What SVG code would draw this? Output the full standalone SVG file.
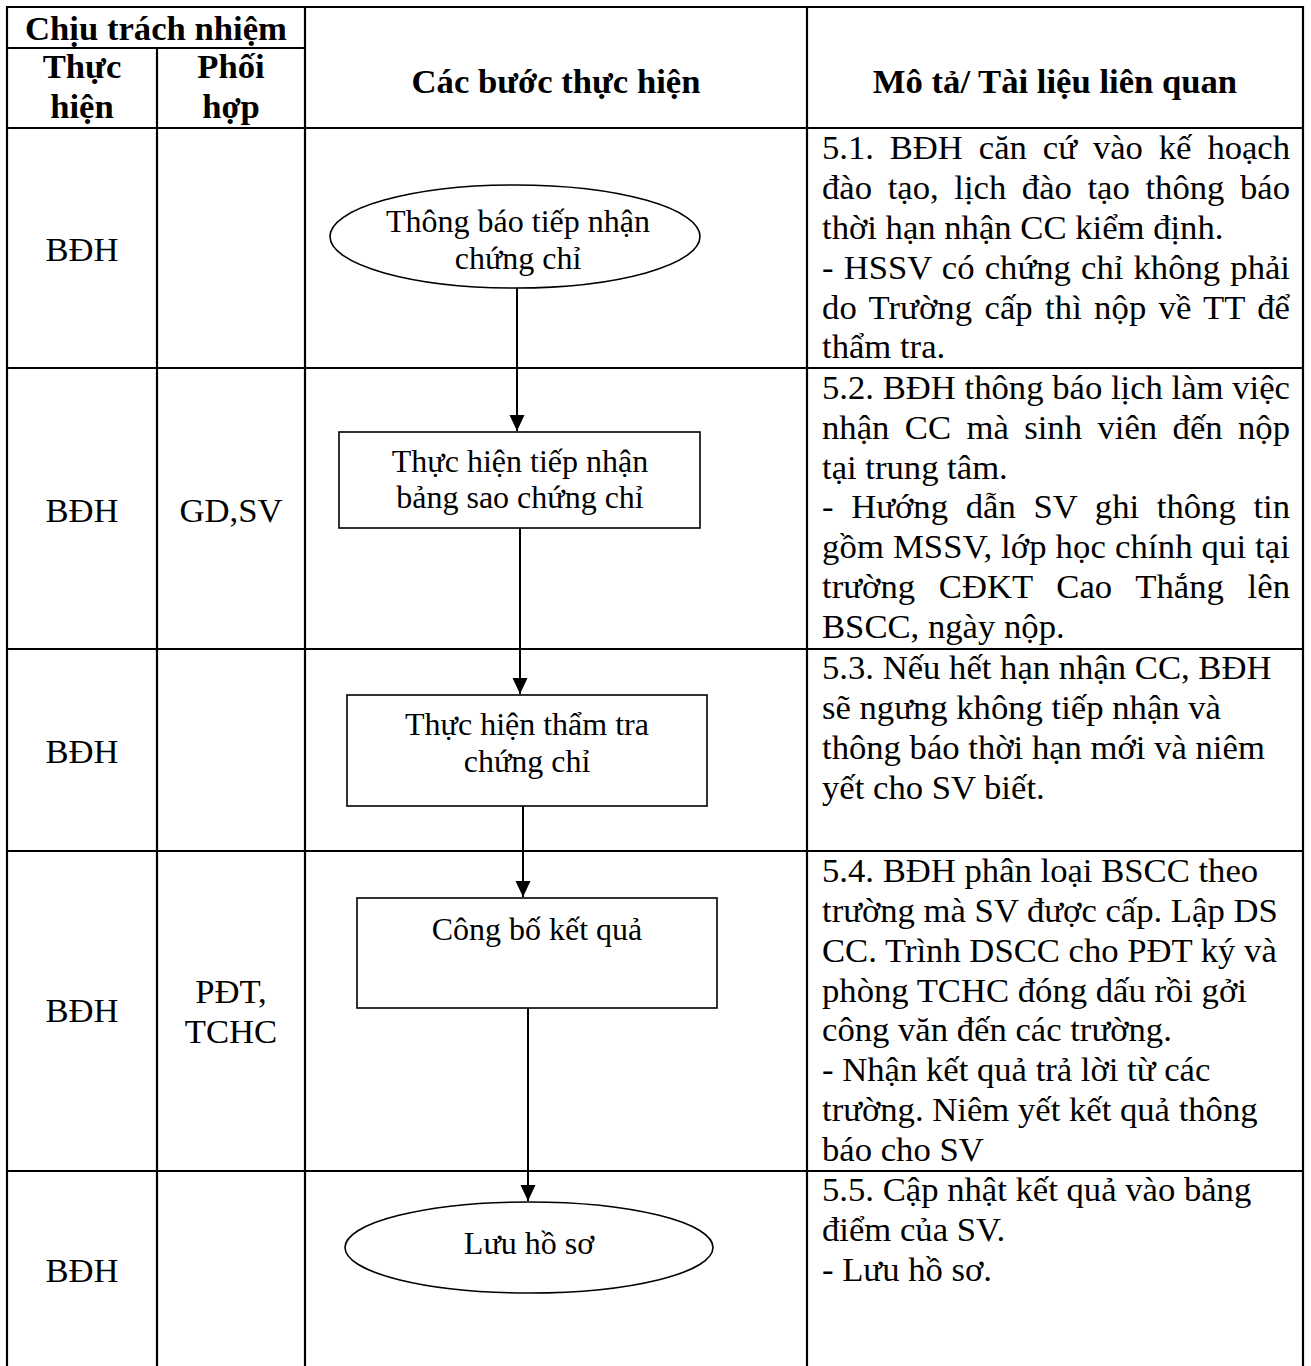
<svg xmlns="http://www.w3.org/2000/svg" width="1311" height="1366" viewBox="0 0 1311 1366">
<style>
  .grid { stroke:#000; stroke-width:2.2; fill:none; }
  .node { stroke:#000; stroke-width:1.6; fill:#fff; }
  .conn { stroke:#000; stroke-width:2; fill:none; }
  text { font-family:"Liberation Serif","Times New Roman",serif; fill:#000; }
  .h { font-size:34.67px; font-weight:bold; text-anchor:middle; }
  .c { font-size:34.67px; text-anchor:middle; }
  .d { font-size:34.67px; }
  .n { font-size:32px; text-anchor:middle; }
</style>
<defs>
  <marker id="arrow" markerUnits="userSpaceOnUse" markerWidth="16" markerHeight="16" refX="16" refY="7.5" orient="auto">
    <path d="M0,0 L16,7.5 L0,15 Z" fill="#000"/>
  </marker>
</defs>
<rect width="1311" height="1366" fill="#fff"/>

<g id="table" class="grid">
  <line x1="6" y1="7" x2="1304" y2="7"/>
  <line x1="7" y1="6" x2="7" y2="1366"/>
  <line x1="1303" y1="6" x2="1303" y2="1366"/>
  <line x1="807" y1="7" x2="807" y2="1366"/>
  <line x1="305" y1="7" x2="305" y2="1366"/>
  <line x1="157" y1="48" x2="157" y2="1366"/>
  <line x1="7" y1="48" x2="305" y2="48"/>
  <line x1="7" y1="128" x2="1303" y2="128"/>
  <line x1="7" y1="368" x2="1303" y2="368"/>
  <line x1="7" y1="649" x2="1303" y2="649"/>
  <line x1="7" y1="851" x2="1303" y2="851"/>
  <line x1="7" y1="1171" x2="1303" y2="1171"/>
</g>

<g id="header">
  <text class="h" x="156" y="40">Chịu trách nhiệm</text>
  <text class="h" x="82" y="78">Thực</text>
  <text class="h" x="82" y="118">hiện</text>
  <text class="h" x="231" y="78">Phối</text>
  <text class="h" x="231" y="118">hợp</text>
  <text class="h" x="556" y="93">Các bước thực hiện</text>
  <text class="h" x="1055" y="93">Mô tả/ Tài liệu liên quan</text>
</g>

<g id="responsibility">
  <text class="c" x="82" y="261">BĐH</text>
  <text class="c" x="82" y="522">BĐH</text>
  <text class="c" x="231" y="522">GD,SV</text>
  <text class="c" x="82" y="763">BĐH</text>
  <text class="c" x="82" y="1022">BĐH</text>
  <text class="c" x="231" y="1003">PĐT,</text>
  <text class="c" x="231" y="1043">TCHC</text>
  <text class="c" x="82" y="1282">BĐH</text>
</g>

<g id="desc-5-1" class="d">
  <text class="d" x="822" y="159" textLength="468" lengthAdjust="spacing" word-spacing="7.4">5.1. BĐH căn cứ vào kế hoạch</text>
  <text class="d" x="822" y="199" textLength="468" lengthAdjust="spacing" word-spacing="6.9">đào tạo, lịch đào tạo thông báo</text>
  <text class="d" x="822" y="239">thời hạn nhận CC kiểm định.</text>
  <text class="d" x="822" y="279" textLength="468" lengthAdjust="spacing" word-spacing="1.5">- HSSV có chứng chỉ không phải</text>
  <text class="d" x="822" y="319" textLength="468" lengthAdjust="spacing" word-spacing="3.5">do Trường cấp thì nộp về TT để</text>
  <text class="d" x="822" y="358">thẩm tra.</text>
</g>

<g id="desc-5-2">
  <text class="d" x="822" y="399" textLength="468" lengthAdjust="spacing">5.2. BĐH thông báo lịch làm việc</text>
  <text class="d" x="822" y="439" textLength="468" lengthAdjust="spacing" word-spacing="6.7">nhận CC mà sinh viên đến nộp</text>
  <text class="d" x="822" y="479">tại trung tâm.</text>
  <text class="d" x="822" y="518" textLength="468" lengthAdjust="spacing" word-spacing="9.1">- Hướng dẫn SV ghi thông tin</text>
  <text class="d" x="822" y="558" textLength="468" lengthAdjust="spacing">gồm MSSV, lớp học chính qui tại</text>
  <text class="d" x="822" y="598" textLength="468" lengthAdjust="spacing" word-spacing="15">trường CĐKT Cao Thắng lên</text>
  <text class="d" x="822" y="638">BSCC, ngày nộp.</text>
</g>

<g id="desc-5-3">
  <text class="d" x="822" y="679">5.3. Nếu hết hạn nhận CC, BĐH</text>
  <text class="d" x="822" y="719">sẽ ngưng không tiếp nhận và</text>
  <text class="d" x="822" y="759">thông báo thời hạn mới và niêm</text>
  <text class="d" x="822" y="799">yết cho SV biết.</text>
</g>

<g id="desc-5-4">
  <text class="d" x="822" y="882">5.4. BĐH phân loại BSCC theo</text>
  <text class="d" x="822" y="922">trường mà SV được cấp. Lập DS</text>
  <text class="d" x="822" y="962">CC. Trình DSCC cho PĐT ký và</text>
  <text class="d" x="822" y="1002">phòng TCHC đóng dấu rồi gởi</text>
  <text class="d" x="822" y="1041">công văn đến các trường.</text>
  <text class="d" x="822" y="1081">- Nhận kết quả trả lời từ các</text>
  <text class="d" x="822" y="1121">trường. Niêm yết kết quả thông</text>
  <text class="d" x="822" y="1161">báo cho SV</text>
</g>

<g id="desc-5-5">
  <text class="d" x="822" y="1201">5.5. Cập nhật kết quả vào bảng</text>
  <text class="d" x="822" y="1241">điểm của SV.</text>
  <text class="d" x="822" y="1281">- Lưu hồ sơ.</text>
</g>

<g id="connectors" class="conn">
  <line x1="517" y1="288" x2="517" y2="431" marker-end="url(#arrow)"/>
  <line x1="520" y1="528" x2="520" y2="694" marker-end="url(#arrow)"/>
  <line x1="523" y1="806" x2="523" y2="897" marker-end="url(#arrow)"/>
  <line x1="528" y1="1008" x2="528" y2="1201" marker-end="url(#arrow)"/>
</g>

<g id="node-thong-bao">
  <ellipse class="node" cx="515" cy="236.5" rx="185" ry="51.5"/>
  <text class="n" x="518" y="232">Thông báo tiếp nhận</text>
  <text class="n" x="518" y="269">chứng chỉ</text>
</g>

<g id="node-tiep-nhan">
  <rect class="node" x="339" y="432" width="361" height="96"/>
  <text class="n" x="520" y="472">Thực hiện tiếp nhận</text>
  <text class="n" x="520" y="508">bảng sao chứng chỉ</text>
</g>

<g id="node-tham-tra">
  <rect class="node" x="347" y="695" width="360" height="111"/>
  <text class="n" x="527" y="735">Thực hiện thẩm tra</text>
  <text class="n" x="527" y="772">chứng chỉ</text>
</g>

<g id="node-cong-bo">
  <rect class="node" x="357" y="898" width="360" height="110"/>
  <text class="n" x="537" y="940">Công bố kết quả</text>
</g>

<g id="node-luu-ho-so">
  <ellipse class="node" cx="529" cy="1247.5" rx="184" ry="45.5"/>
  <text class="n" x="529" y="1254">Lưu hồ sơ</text>
</g>
</svg>
